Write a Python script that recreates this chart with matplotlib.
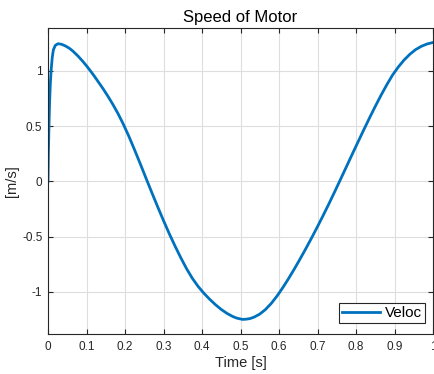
import numpy as np
import matplotlib
matplotlib.use("Agg")
import matplotlib.pyplot as plt

# values
time_s = [0, 0.001, 0.0025, 0.004, 0.006, 0.008, 0.011, 0.014, 0.019, 0.026,
          0.035, 0.045, 0.055, 0.065, 0.078, 0.09, 0.1, 0.11, 0.12, 0.13,
          0.143, 0.156, 0.169, 0.182, 0.195, 0.21, 0.225, 0.24, 0.255, 0.27,
          0.285, 0.3, 0.315, 0.33, 0.345, 0.36, 0.375, 0.39, 0.405, 0.42,
          0.435, 0.45, 0.465, 0.48, 0.49, 0.505, 0.515, 0.525, 0.535, 0.55,
          0.565, 0.58, 0.595, 0.61, 0.625, 0.64, 0.655, 0.67, 0.685, 0.7,
          0.715, 0.73, 0.745, 0.76, 0.775, 0.79, 0.805, 0.82, 0.835, 0.85,
          0.865, 0.88, 0.895, 0.91, 0.925, 0.94, 0.955, 0.97, 0.985, 1.0]
veloc = [0, 0.25, 0.5, 0.7, 0.88, 1.0, 1.12, 1.19, 1.23, 1.245,
         1.24, 1.225, 1.205, 1.177, 1.133, 1.087, 1.045, 1.0, 0.953, 0.903,
         0.838, 0.768, 0.693, 0.612, 0.522, 0.408, 0.284, 0.156, 0.025, -0.104,
         -0.231, -0.354, -0.473, -0.585, -0.691, -0.79, -0.877, -0.95, -1.012, -1.066,
         -1.115, -1.158, -1.194, -1.222, -1.236, -1.248, -1.246, -1.24, -1.228, -1.2,
         -1.158, -1.103, -1.036, -0.96, -0.878, -0.791, -0.7, -0.606, -0.509, -0.409,
         -0.306, -0.2, -0.091, 0.02, 0.132, 0.244, 0.355, 0.465, 0.573, 0.678,
         0.779, 0.874, 0.962, 1.035, 1.098, 1.15, 1.192, 1.222, 1.243, 1.256]

x_ticks = [0, 0.1, 0.2, 0.3, 0.4, 0.5, 0.6, 0.7, 0.8, 0.9, 1]
x_labels = ["0", "0.1", "0.2", "0.3", "0.4", "0.5", "0.6", "0.7", "0.8", "0.9", "1"]
y_ticks = [-1, -0.5, 0, 0.5, 1]
y_labels = ["-1", "-0.5", "0", "0.5", "1"]

plt.rcParams['font.family'] = ['Liberation Sans', 'DejaVu Sans']
axis_col = '#262626'

fig = plt.figure(figsize=(4.34, 3.74), dpi=100)
ax = fig.add_axes([48 / 434, 1 - 334 / 374, 385 / 434, 306 / 374])

ax.plot(time_s, veloc, color='#0072BD', linewidth=2, label='Veloc',
        solid_joinstyle='round')

ax.set_xlim(0, 1)
ax.set_ylim(-1.38, 1.387)
ax.set_xticks(x_ticks)
ax.set_xticklabels(x_labels)
ax.set_yticks(y_ticks)
ax.set_yticklabels(y_labels)

ax.grid(True, color='#dedede', linewidth=0.8)
ax.set_axisbelow(True)
ax.tick_params(direction='in', length=3.5, width=0.8, top=True, right=True,
               labelsize=8.5, colors=axis_col)
ax.tick_params(axis='x', pad=5)
ax.tick_params(axis='y', pad=4)
for sp in ax.spines.values():
    sp.set_color(axis_col)
    sp.set_linewidth(0.8)

ax.set_title('Speed of Motor', fontsize=12, color='black', pad=4)
ax.set_xlabel('Time [s]', fontsize=10.5, color=axis_col, labelpad=2)
ax.set_ylabel('[m/s]', fontsize=10.5, color=axis_col, labelpad=2)

leg = ax.legend(loc='lower right', fontsize=11, fancybox=False,
                framealpha=1, edgecolor=axis_col, handlelength=2.5,
                handletextpad=0.3, borderpad=0.2, borderaxespad=0)
leg.set_bbox_to_anchor((425 / 434, 1 - 323 / 374), transform=fig.transFigure)
leg.get_frame().set_linewidth(0.8)

fig.savefig('out.png', dpi=100)
